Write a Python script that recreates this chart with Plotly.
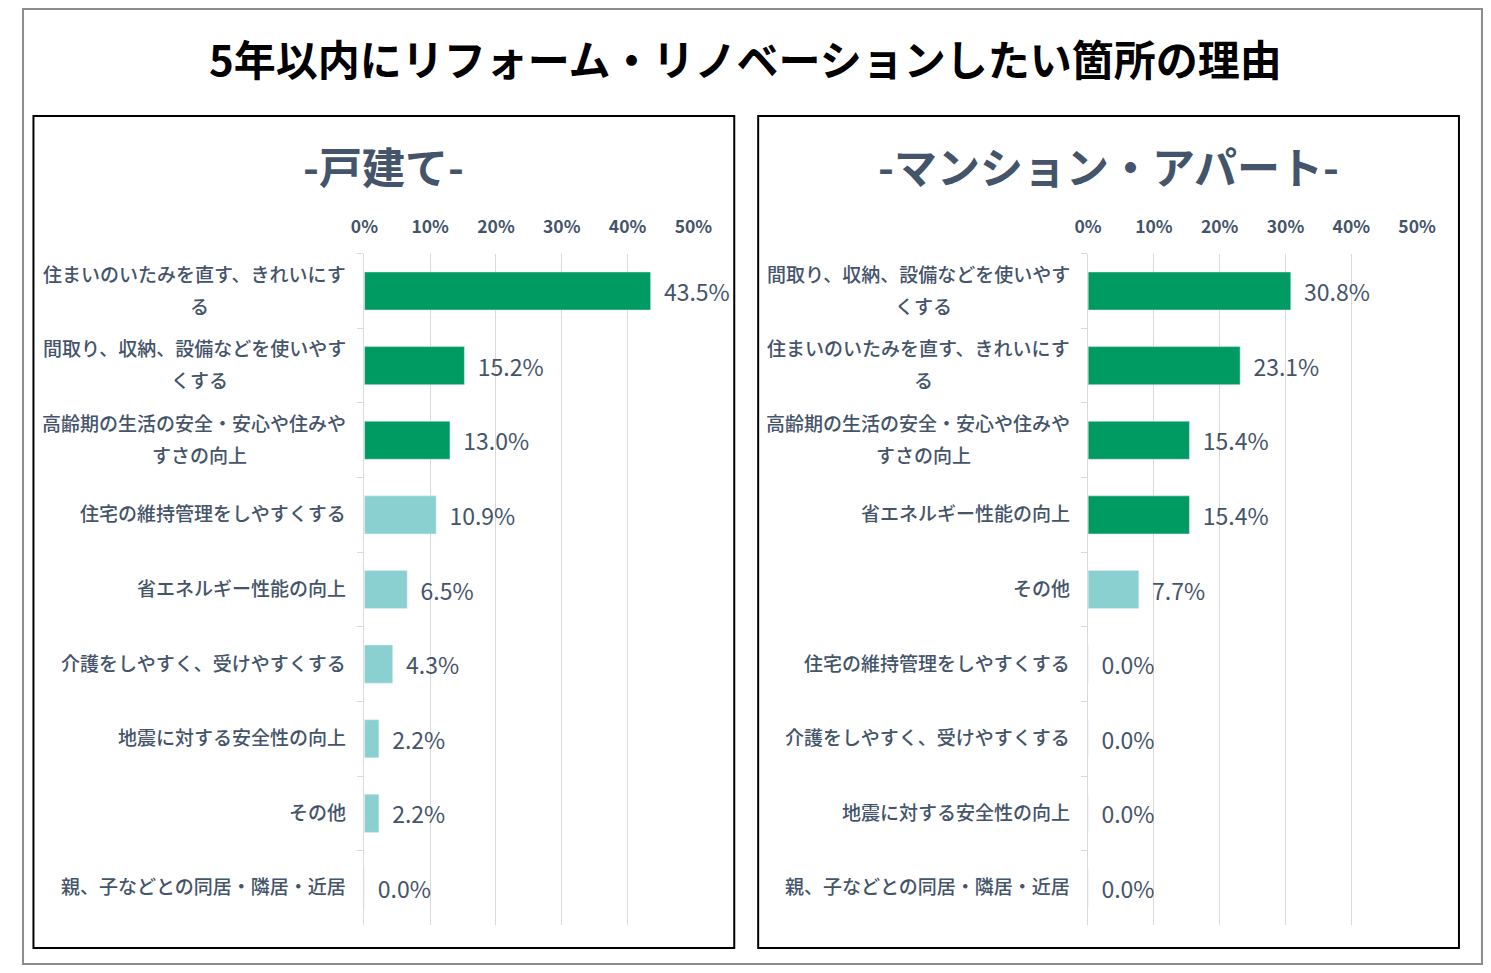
"""
5年以内にリフォーム・リノベーションしたい箇所の理由 — two-panel bar chart
(戸建て / マンション・アパート), drawn as one Plotly figure with two subplots.
"""

import plotly.graph_objects as go

# page is 1491x973; body keeps its 8px margin
PAGE_W, PAGE_H, OFF = 1491, 973, 8
H = PAGE_H - 2 * OFF
# the photographed page comes out slightly squeezed sideways; measured once, undone here
SHOT_X0, SHOT_SX = 19.5, 0.981
W = round((PAGE_W - 6 - SHOT_X0) / SHOT_SX)

FONT = "Noto Sans CJK JP"
SLATE = "#44546A"
DARK = "#009B63"
LIGHT = "#8AD0D0"
GRID = "#D9D9D9"

TITLE = "5年以内にリフォーム・リノベーションしたい箇所の理由"

# ---------- data ----------

house_title = "-戸建て-"
house_reasons = [
    "住まいのいたみを直す、きれいにする",
    "間取り、収納、設備などを使いやすくする",
    "高齢期の生活の安全・安心や住みやすさの向上",
    "住宅の維持管理をしやすくする",
    "省エネルギー性能の向上",
    "介護をしやすく、受けやすくする",
    "地震に対する安全性の向上",
    "その他",
    "親、子などとの同居・隣居・近居",
]
house_share = [0.435, 0.152, 0.130, 0.109, 0.065, 0.043, 0.022, 0.022, 0.0]
house_top_n = 3          # bars drawn in the dark colour

flat_title = "-マンション・アパート-"
flat_reasons = [
    "間取り、収納、設備などを使いやすくする",
    "住まいのいたみを直す、きれいにする",
    "高齢期の生活の安全・安心や住みやすさの向上",
    "省エネルギー性能の向上",
    "その他",
    "住宅の維持管理をしやすくする",
    "介護をしやすく、受けやすくする",
    "地震に対する安全性の向上",
    "親、子などとの同居・隣居・近居",
]
flat_share = [0.308, 0.231, 0.154, 0.154, 0.077, 0.0, 0.0, 0.0, 0.0]
flat_top_n = 4

x_ticks = [0, 0.1, 0.2, 0.3, 0.4, 0.5]

# ---------- layout helpers (page pixel -> paper, margins are zero) ----------

def px(x):
    return (x - SHOT_X0) / SHOT_SX / W


def py(y):
    return 1 - (y - OFF) / H


PLOT_TOP, PLOT_BOTTOM = 253.7, 925.3
PANELS = [
    # panel box left/right, axis 0% and 50% in page pixels
    dict(box=(31, 734), x0=363, x1=693),
    dict(box=(758, 1461), x0=1089, x1=1419),
]
LABEL_SIZE = 19
WRAP = 16


def category_labels(reasons, axis_x0, yref):
    """Excel-style wrapped category labels: right edge near the axis, wrapped
    lines centred under the first line."""
    right = axis_x0 - 16
    notes = []
    for r in reasons:
        if len(r) <= WRAP:
            notes.append(dict(text=r, x=px(right), xanchor="right", y=r, yshift=2))
            continue
        first, rest = r[:WRAP], r[WRAP:]
        notes.append(dict(text=first, x=px(right), xanchor="right", y=r, yshift=18))
        centre = right - len(first) * LABEL_SIZE * SHOT_SX / 2
        notes.append(dict(text=rest, x=px(centre), xanchor="center", y=r, yshift=-14))
    for n in notes:
        n.update(xref="paper", yref=yref, yanchor="middle", showarrow=False,
                 font=dict(family=FONT, size=LABEL_SIZE, color=SLATE, weight=500))
    return notes


# ---------- figure ----------

fig = go.Figure()
series = [
    (house_reasons, house_share, house_top_n, "x", "y"),
    (flat_reasons, flat_share, flat_top_n, "x2", "y2"),
]
for reasons, share, top_n, xa, ya in series:
    fig.add_trace(go.Bar(
        y=reasons, x=share, orientation="h", xaxis=xa, yaxis=ya,
        marker_color=[DARK if i < top_n else LIGHT for i in range(len(share))],
        texttemplate="\u00a0\u00a0%{x:.1%}", textposition="outside",
        textfont=dict(family=FONT, size=23, color=SLATE),
        constraintext="none", cliponaxis=False, hoverinfo="skip",
    ))

axis_common = dict(
    range=[0, 0.5], tickvals=x_ticks, tickformat=".0%", side="top",
    showgrid=True, gridcolor=GRID, gridwidth=1, zeroline=False, showline=False,
    tickfont=dict(family=FONT, size=17.5, color=SLATE, weight="bold"),
    ticks="", ticklabelstandoff=16, fixedrange=True,
)
yaxis_common = dict(
    autorange="reversed", showticklabels=False, showgrid=False, zeroline=False,
    showline=True, linecolor=GRID, linewidth=1,
    ticks="outside", tickson="boundaries", ticklen=6, tickcolor=GRID,
    domain=[py(PLOT_BOTTOM), py(PLOT_TOP)], fixedrange=True,
)

fig.update_layout(
    width=W, height=H, margin=dict(l=0, r=0, t=0, b=0),
    paper_bgcolor="white", plot_bgcolor="white", showlegend=False,
    bargap=0.49,
    xaxis=dict(axis_common, domain=[px(PANELS[0]["x0"]), px(PANELS[0]["x1"])], anchor="y"),
    yaxis=dict(yaxis_common, anchor="x"),
    xaxis2=dict(axis_common, domain=[px(PANELS[1]["x0"]), px(PANELS[1]["x1"])], anchor="y2"),
    yaxis2=dict(yaxis_common, anchor="x2"),
)

# outer frame and the two panel boxes
shapes = [dict(type="rect", xref="paper", yref="paper", x0=0.0007, x1=0.9993, y0=0.001, y1=0.999,
               line=dict(color="#8C8C8C", width=2))]
for p in PANELS:
    shapes.append(dict(type="rect", xref="paper", yref="paper",
                       x0=px(p["box"][0]), x1=px(p["box"][1]), y0=py(948), y1=py(116),
                       line=dict(color="black", width=2)))
fig.update_layout(shapes=shapes)

notes = [dict(text=TITLE, x=px(745), y=py(57), font=dict(family=FONT, size=42, color="black", weight="bold"))]
for title, p in ((house_title, PANELS[0]), (flat_title, PANELS[1])):
    notes.append(dict(text=title, x=px(sum(p["box"]) / 2), y=py(165),
                      font=dict(family=FONT, size=43, color=SLATE, weight="bold")))
for n in notes:
    n.update(xref="paper", yref="paper", xanchor="center", yanchor="middle", showarrow=False)
notes += category_labels(house_reasons, PANELS[0]["x0"], "y")
notes += category_labels(flat_reasons, PANELS[1]["x0"], "y2")
fig.update_layout(annotations=notes)

fig.write_html("out.html")
